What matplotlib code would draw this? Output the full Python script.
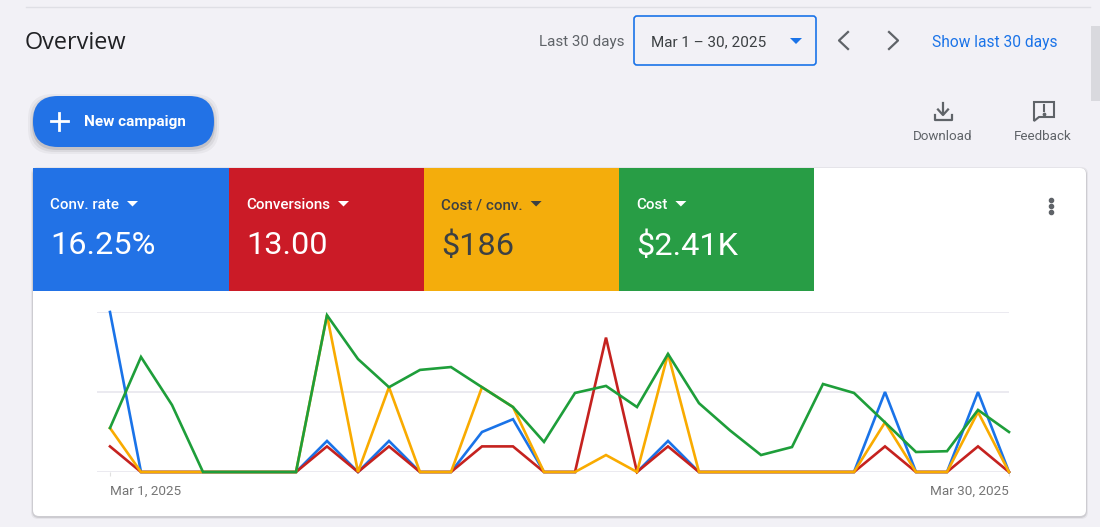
import matplotlib
matplotlib.use("Agg")
import matplotlib.pyplot as plt
from matplotlib.patches import FancyBboxPatch, Rectangle, Polygon

plt.rcParams['font.family'] = ['Roboto', 'DejaVu Sans']

nan = float("nan")

# values as % of the top gridline, one per day Mar 1 - Mar 30
days = list(range(30))
conv_rate = [100, 0, 0, 0, 0, 0, 0, 19.4, 0, 19.4, 0, 0, 25, 33, 0, 0, nan, 0, 19.4, 0,
             0, 0, 0, 0, 0, 50, 0, 0, 50, 0]
conversions = [16, 0, 0, 0, 0, 0, 0, 16, 0, 16, 0, 0, 16, 16, 0, 0, 84, 0, 16, 0,
               0, 0, 0, 0, 0, 16, 0, 0, 16, 0]
cost_conv = [27.5, 0, 0, 0, 0, 0, 0, 98, 0, 53, 0, 0, 53, 40.6, 0, 0, 10.6, 0, 73.8, 0,
             0, 0, 0, 0, 0, 31, 0, 0, 37.5, 0]
cost = [27.5, 71.9, 41.9, 0, 0, 0, 0, 98, 70.6, 53, 63.8, 65.6, 53, 40.6, 18.8, 49.4, 53.8,
        40.6, 73.8, 43, 26, 10.6, 15.6, 55, 49.4, 31, 12.5, 13, 38.8, 25]

metric_names = ["Conv. rate", "Conversions", "Cost / conv.", "Cost"]
metric_values = ["16.25%", "13.00", "$186", "$2.41K"]
tile_colors = ["#2272e6", "#cb1b27", "#f4ad0c", "#289d45"]
tile_text = ["white", "white", "#3c4043", "white"]
line_colors = ["#1a73e8", "#c5221f", "#f9ab00", "#1e9e3a"]
series = [conv_rate, conversions, cost_conv, cost]
tile_edges = [33, 229, 424, 619, 814]

BG = "#f2f1f6"
fig = plt.figure(figsize=(11, 5.27), dpi=100, facecolor=BG)

# page furniture in pixel coordinates
ui = fig.add_axes([0, 0, 1, 1])
ui.set_xlim(0, 1100)
ui.set_ylim(527, 0)
ui.axis("off")

ui.plot([26, 1090], [6.5, 6.5], color="#dfdfe5", lw=1)
ui.add_patch(Rectangle((1091, 26), 9, 75, color="#d9d9de", lw=0))
ui.text(25, 43, "Overview", fontsize=16.9, color="#202124", va="center", family="Open Sans")

ui.text(539, 42, "Last 30 days", fontsize=10.9, color="#5f6368", va="center")
ui.add_patch(FancyBboxPatch((634, 16), 182, 49, boxstyle="round,pad=0,rounding_size=3",
                            fc=BG, ec="#1a73e8", lw=1.2))
ui.text(651, 42, "Mar 1 – 30, 2025", fontsize=11, color="#3c4043", va="center")
ui.add_patch(Polygon([[790, 38], [802, 38], [796, 44]], color="#1a73e8", lw=0))
ui.plot([848, 839, 848], [32, 40.5, 49], color="#5f6368", lw=1.6)
ui.plot([889, 898, 889], [32, 40.5, 49], color="#5f6368", lw=1.6)
ui.text(932, 42, "Show last 30 days", fontsize=11.2, color="#1a73e8", va="center")

# new campaign button
for grow, alpha in [(5, 0.04), (3, 0.06), (1, 0.10)]:
    ui.add_patch(FancyBboxPatch((33 - grow, 99 - grow), 181 + 2 * grow, 50 + 2 * grow,
                                boxstyle="round,pad=0,rounding_size=25", fc="black", ec="none", alpha=alpha))
ui.add_patch(FancyBboxPatch((33, 96), 181, 51, boxstyle="round,pad=0,rounding_size=25",
                            fc="#2272e6", ec="none"))
ui.plot([50.5, 67.5], [121, 121], color="white", lw=2)
ui.plot([59, 59], [112.5, 129.5], color="white", lw=2)
ui.text(84, 122, "New campaign", fontsize=11, color="white", va="center", weight="bold")

# download and feedback icons
ui.plot([943, 943], [103, 114], color="#5f6368", lw=1.6)
ui.plot([938, 943, 948], [109.5, 115, 109.5], color="#5f6368", lw=1.6)
ui.plot([934.5, 934.5, 951.5, 951.5], [115, 119.5, 119.5, 115], color="#5f6368", lw=1.6)
ui.text(942.5, 136.5, "Download", fontsize=9.6, color="#5f6368", ha="center", va="center")
ui.add_patch(Polygon([[1034, 102], [1054, 102], [1054, 117], [1039, 117], [1034, 121]], closed=True,
                     fc="none", ec="#5f6368", lw=1.5))
ui.plot([1044, 1044], [105, 110.5], color="#5f6368", lw=1.5)
ui.plot([1044], [113.5], "o", color="#5f6368", ms=1.7)
ui.text(1043, 136.5, "Feedback", fontsize=9.6, color="#5f6368", ha="center", va="center")

# card
for grow, alpha in [(2, 0.05), (1, 0.10)]:
    ui.add_patch(FancyBboxPatch((33 - grow, 168 - grow + 1), 1053 + 2 * grow, 348 + 2 * grow,
                                boxstyle="round,pad=0,rounding_size=7", fc="black", ec="none", alpha=alpha))
ui.add_patch(FancyBboxPatch((33, 168), 1053, 348, boxstyle="round,pad=0,rounding_size=6",
                            fc="white", ec="none"))

for i, name in enumerate(metric_names):
    x0, x1 = tile_edges[i], tile_edges[i + 1]
    ui.add_patch(Rectangle((x0, 168), x1 - x0, 122.5, color=tile_colors[i], lw=0))
    t = ui.text(x0 + 17, 205, name, fontsize=10.9, color=tile_text[i], va="center",
                weight="medium")
    ui.text(x0 + 17, 246, metric_values[i], fontsize=23.4, color=tile_text[i], va="center")
    fig.canvas.draw()
    w = t.get_window_extent().width
    tx = x0 + 17 + w + 8
    ui.add_patch(Polygon([[tx, 201], [tx + 11, 201], [tx + 5.5, 206.5]], color=tile_text[i], lw=0))

ui.plot([1051] * 3, [199.5, 205.5, 211.5], "o", color="#5f6368", ms=3)

# the chart itself
W, H = 1100, 527
left, right, top, bottom = 97, 1009, 312, 472
ax = fig.add_axes([left / W, 1 - bottom / H, (right - left) / W, (bottom - top) / H])
ax.patch.set_alpha(0)
ax.set_xlim(-13 / 31.03, 29)
ax.set_ylim(0, 100)
for s in ax.spines.values():
    s.set_visible(False)
ax.set_yticks([0, 50, 100])
ax.set_yticklabels([])
ax.tick_params(axis="y", length=0)
ax.grid(axis="y", color="#e8e6ee", lw=1.2)
ax.set_axisbelow(True)

for vals, col in zip(series, line_colors):
    ax.plot(days, vals, color=col, lw=1.9, clip_on=False, solid_joinstyle="miter")

ax.set_xticks([0, 29])
ax.set_xticklabels(["Mar 1, 2025", "Mar 30, 2025"], fontsize=9.7, color="#757575")
ax.tick_params(axis="x", length=3, color="#e0e0e0", pad=6)
labels = ax.get_xticklabels()
labels[0].set_ha("left")
labels[1].set_ha("right")

fig.savefig("out.png", dpi=100, facecolor=BG)
